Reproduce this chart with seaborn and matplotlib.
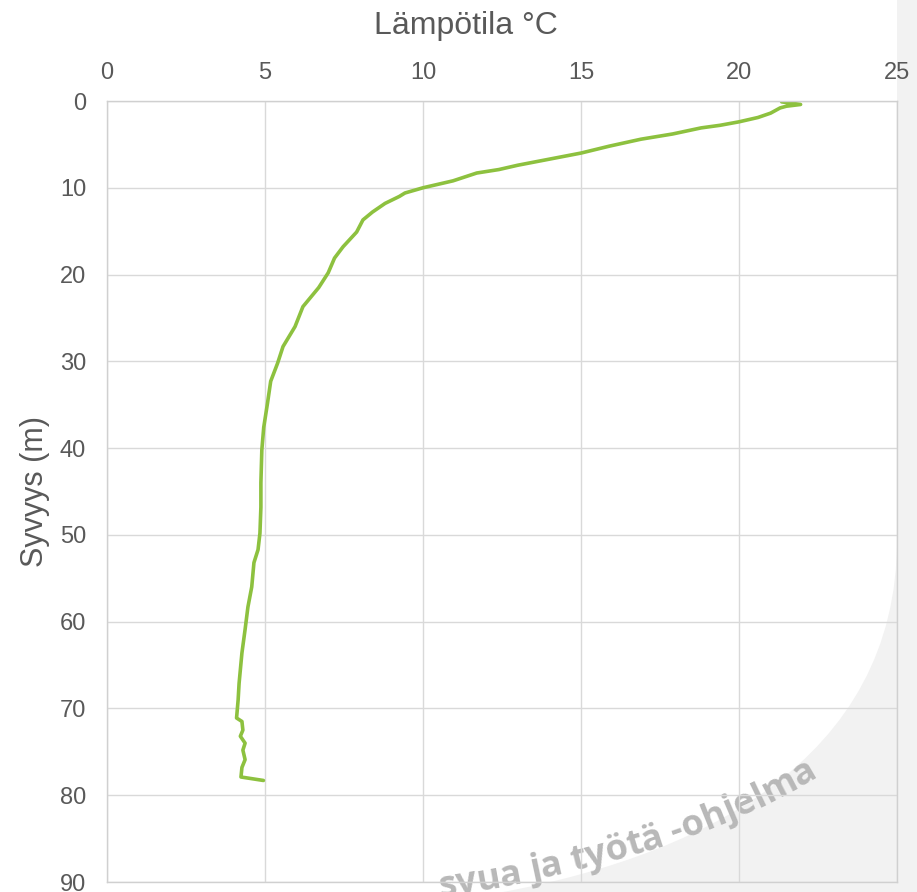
import numpy as np
import pandas as pd
import matplotlib
matplotlib.use("Agg")
import matplotlib.pyplot as plt
import seaborn as sns
from matplotlib.path import Path
from matplotlib.patches import PathPatch
from matplotlib.textpath import TextToPath
from matplotlib.font_manager import FontProperties

# temperature profile (depth in m, temperature in °C)
depth = [0.1, 0.4, 0.6, 0.8, 1.4, 1.9, 2.4, 2.8, 3.1, 3.8, 4.4, 5.2, 6.0, 6.7,
         7.4, 7.9, 8.3, 9.2, 10.0, 10.6, 11.0, 11.8, 12.8, 13.7, 15.1, 16.8,
         18.1, 19.8, 21.5, 23.7, 26.0, 28.3, 30.2, 32.3, 34.8, 37.6, 40.2,
         44.0, 46.8, 49.8, 51.7, 53.2, 56.0, 58.3, 60.9, 63.6, 67.1, 69.0,
         71.1, 71.5, 72.5, 73.2, 74.0, 74.8, 75.9, 76.8, 77.9, 78.3]
temperature = [21.35, 21.95, 21.5, 21.3, 21.0, 20.6, 20.0, 19.4, 18.8, 17.9,
               16.9, 15.9, 15.0, 14.0, 13.0, 12.4, 11.7, 10.95, 10.0, 9.43,
               9.25, 8.8, 8.4, 8.1, 7.9, 7.47, 7.2, 7.0, 6.7, 6.2, 5.95, 5.57,
               5.4, 5.18, 5.08, 4.96, 4.9, 4.87, 4.87, 4.84, 4.78, 4.65, 4.58,
               4.46, 4.37, 4.27, 4.18, 4.15, 4.1, 4.27, 4.3, 4.22, 4.37, 4.3,
               4.37, 4.27, 4.24, 4.95]

x_ticks = [0, 5, 10, 15, 20, 25]
y_ticks = [0, 10, 20, 30, 40, 50, 60, 70, 80, 90]
x_title = "Lämpötila °C"
y_title = "Syvyys (m)"
watermark = "kasvua ja työtä -ohjelma"

W, H = 917, 892
sns.set_theme(style="white")
plt.rcParams["font.family"] = ["Liberation Sans", "DejaVu Sans"]

fig = plt.figure(figsize=(W / 100, H / 100), dpi=100)
fig.patch.set_facecolor("white")


def px(x, y):
    return x / W, 1 - y / H


# grey slide background shape behind the chart
verts = [px(897, 0), px(917, 0), px(917, 892), px(480, 892), px(480, 896),
         px(700, 860), px(897, 760), px(897, 540), px(897, 0)]
codes = [Path.MOVETO, Path.LINETO, Path.LINETO, Path.LINETO, Path.LINETO,
         Path.CURVE4, Path.CURVE4, Path.CURVE4, Path.CLOSEPOLY]
fig.add_artist(PathPatch(Path(verts, codes), facecolor="#f2f2f2",
                         edgecolor="none", transform=fig.transFigure, zorder=0))

ax = fig.add_axes([107 / W, 1 - 882 / H, 790 / W, 781 / H])
ax.set_facecolor("none")
ax.set_zorder(2)

df = pd.DataFrame({"depth": depth, "temperature": temperature})
sns.lineplot(data=df, x="temperature", y="depth", sort=False, estimator=None,
             color="#8dc13f", linewidth=2.6, ax=ax)
for ln in ax.lines:
    ln.set_solid_joinstyle("round")
    ln.set_solid_capstyle("round")

ax.set_xlim(0, 25)
ax.set_ylim(90, 0)
ax.set_xticks(x_ticks)
ax.set_yticks(y_ticks)
ax.xaxis.tick_top()
ax.xaxis.set_label_position("top")
ax.tick_params(axis="both", length=0, labelsize=17, labelcolor="#595959")
ax.tick_params(axis="x", pad=12)
ax.tick_params(axis="y", pad=15)
ax.grid(True, color="#d9d9d9", linewidth=1.0)
for sp in ax.spines.values():
    sp.set_color("#d0d0d0")
    sp.set_linewidth(1.0)
ax.set_xlabel(x_title, fontsize=23, color="#595959")
ax.xaxis.set_label_coords(0.454, 1.077)
ax.xaxis.label.set_va("bottom")
ax.set_ylabel(y_title, fontsize=22, color="#595959", labelpad=7)

# curved watermark text along the edge of the grey shape
fp = FontProperties(family="Open Sans", weight="bold", size=26)
ttp = TextToPath()
scale = 100 / 72


def tw(s):
    if not s:
        return 0.0
    w, _, _ = ttp.get_text_width_height_descent(s, fp, ismath=False)
    return w * scale


p0, p1, p2 = np.array([380.0, 905.0]), np.array([660.0, 872.0]), np.array([818.0, 776.0])
ts = np.linspace(0, 1, 800)[:, None]
curve = (1 - ts) ** 2 * p0 + 2 * (1 - ts) * ts * p1 + ts ** 2 * p2
d0 = curve[0] - curve[1]
d0 = d0 / np.hypot(*d0)
lead = curve[0] + np.linspace(200, 0, 100)[:-1, None] * d0
curve = np.vstack([lead, curve])
arc = np.concatenate([[0], np.cumsum(np.hypot(*np.diff(curve, axis=0).T))])
start = arc[-1] - tw(watermark)

for i, ch in enumerate(watermark):
    if ch == " ":
        continue
    s0 = start + tw(watermark[:i])
    smid = s0 + tw(ch) / 2
    x0 = np.interp(s0, arc, curve[:, 0])
    y0 = np.interp(s0, arc, curve[:, 1])
    xa, ya = np.interp(smid - 2, arc, curve[:, 0]), np.interp(smid - 2, arc, curve[:, 1])
    xb, yb = np.interp(smid + 2, arc, curve[:, 0]), np.interp(smid + 2, arc, curve[:, 1])
    ang = np.degrees(np.arctan2(-(yb - ya), xb - xa))
    # the start of the phrase runs off the bottom of the slide
    if x0 < 425:
        continue
    fx, fy = px(x0, y0)
    fig.text(fx, fy, ch, fontproperties=fp, color="#b8b8b8", rotation=ang,
             rotation_mode="anchor", ha="left", va="baseline", zorder=1)

fig.savefig("out.png", dpi=100, facecolor=fig.get_facecolor())
